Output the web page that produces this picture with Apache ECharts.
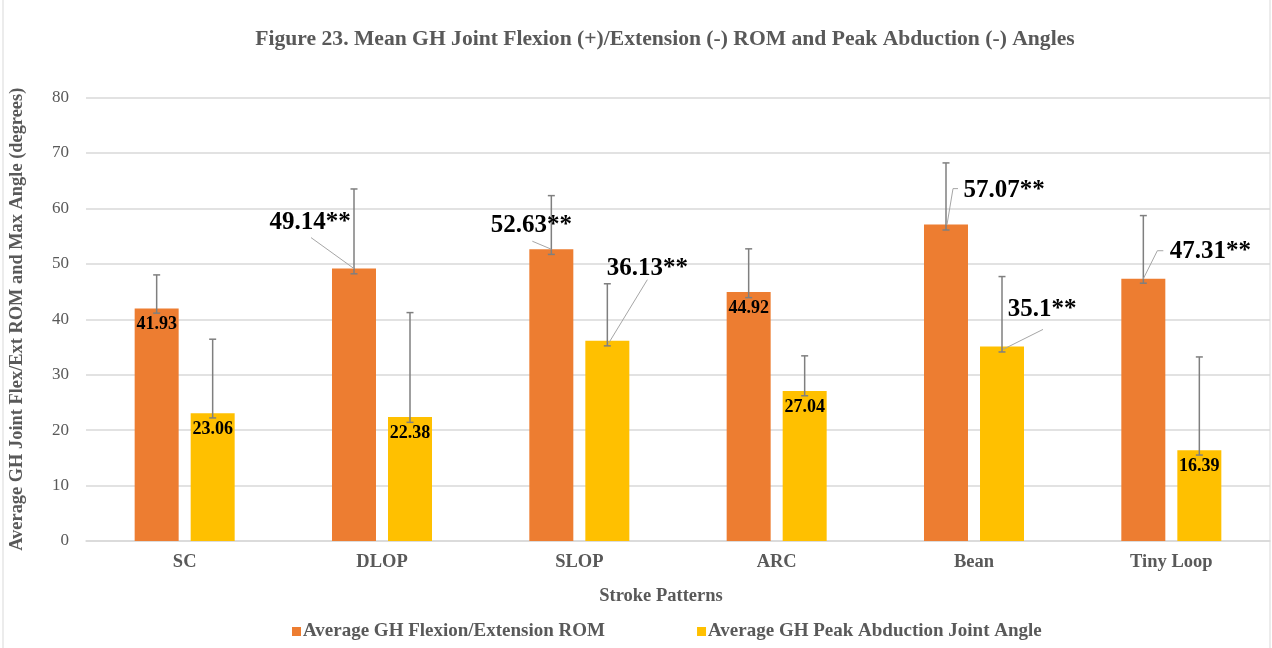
<!DOCTYPE html>
<html>
<head>
<meta charset="utf-8">
<script src="https://cdn.jsdelivr.net/npm/echarts@6/dist/echarts.min.js"></script>
<style>
  html, body { margin: 0; padding: 0; background: #fff; }
  #chart { width: 1272px; height: 648px; }
</style>
</head>
<body>
<div id="chart"></div>
<script>
// Stroke patterns on the x axis
const categories = ['SC', 'DLOP', 'SLOP', 'ARC', 'Bean', 'Tiny Loop'];
const seriesNames = ['Average GH Flexion/Extension ROM', 'Average GH Peak Abduction Joint Angle'];

// Mean values (degrees)
const flexExtRom = [41.93, 49.14, 52.63, 44.92, 57.07, 47.31];
const peakAbduction = [23.06, 22.38, 36.13, 27.04, 35.1, 16.39];

// Error bar ends (degrees)
const flexExtErrHigh = [48.0, 63.5, 62.3, 52.7, 68.2, 58.7];
const flexExtErrLow = [41.1, 48.2, 51.7, 43.9, 56.1, 46.5];
const abductionErrHigh = [36.4, 41.2, 46.4, 33.4, 47.7, 33.2];
const abductionErrLow = [22.2, 21.4, 35.2, 26.2, 34.1, 15.5];

// Significant differences (marked with **)
const flexExtSig = [false, true, true, false, true, true];
const abductionSig = [false, false, true, false, true, false];

// Y axis ticks
const yMin = 0, yMax = 80, yStep = 10;

// ---- styling / layout ----
const FONT = '"Liberation Serif", "Times New Roman", serif';
const GREY = '#595959';
const COLORS = ['#ED7D31', '#FFC000'];
const BAR_W = 44;
const GAP_PX = 12;
const HALF = (BAR_W + GAP_PX) / 2;

// Callout placement relative to the top centre of a bar: text centre and leader polyline
const calloutLayout = {
  '0-1': { t: [-44, -46], line: [[-43, -31], [0, 0]] },
  '0-2': { t: [-20, -24], line: [[-19, -8], [0, 0]] },
  '0-4': { t: [58, -34], line: [[12, -36], [7, -36], [1, 0]] },
  '0-5': { t: [67, -27], line: [[20, -28], [14, -28], [0, 0]] },
  '1-2': { t: [40, -72], line: [[40, -61], [1, 3]] },
  '1-4': { t: [40, -37], line: [[41, -17], [1, 3]] }
};

const values = [flexExtRom, peakAbduction];
const sigs = [flexExtSig, abductionSig];
const errHigh = [flexExtErrHigh, abductionErrHigh];
const errLow = [flexExtErrLow, abductionErrLow];

// error bar data: [categoryIndex, low, high, seriesIndex]
const errData = [];
const calloutData = [];
for (let s = 0; s < 2; s++) {
  for (let i = 0; i < categories.length; i++) {
    errData.push([i, errLow[s][i], errHigh[s][i], s]);
    if (sigs[s][i]) calloutData.push([i, values[s][i], s]);
  }
}

function barX(api, idx, s) {
  return api.coord([idx, 0])[0] + (s === 0 ? -HALF : HALF);
}

const chart = echarts.init(document.getElementById('chart'), null, { renderer: 'canvas' });

chart.setOption({
  animation: false,
  backgroundColor: '#fff',
  title: {
    text: 'Figure 23. Mean GH Joint Flexion (+)/Extension (-) ROM and Peak Abduction (-) Angles',
    left: 660,
    top: 23,
    textAlign: 'center',
    textStyle: { fontFamily: FONT, fontWeight: 'bold', fontSize: 21.6, color: GREY }
  },
  legend: {
    data: seriesNames,
    left: 287,
    top: 617,
    itemWidth: 9,
    itemHeight: 9,
    itemGap: 92,
    icon: 'rect',
    textStyle: { fontFamily: FONT, fontWeight: 'bold', fontSize: 19, color: GREY, padding: [0, 0, 0, -3] }
  },
  grid: { left: 85, right: 2, top: 97.5, bottom: 107, containLabel: false },
  xAxis: {
    type: 'category',
    data: categories,
    name: 'Stroke Patterns',
    nameLocation: 'middle',
    nameGap: 46,
    nameTextStyle: { fontFamily: FONT, fontWeight: 'bold', fontSize: 18.5, color: GREY, padding: [0, 34, 0, 0] },
    axisLine: { lineStyle: { color: '#D9D9D9', width: 1.5 } },
    axisTick: { show: false },
    axisLabel: { fontFamily: FONT, fontWeight: 'bold', fontSize: 18.5, color: GREY, margin: 12 }
  },
  yAxis: {
    type: 'value',
    min: yMin,
    max: yMax,
    interval: yStep,
    name: 'Average GH Joint Flex/Ext ROM and Max Angle (degrees)',
    nameLocation: 'middle',
    nameGap: 60,
    nameTextStyle: { fontFamily: FONT, fontWeight: 'bold', fontSize: 18.4, color: GREY },
    axisLine: { show: false },
    axisTick: { show: false },
    axisLabel: { fontFamily: FONT, fontSize: 17, color: GREY, margin: 17 },
    splitLine: { lineStyle: { color: '#D9D9D9', width: 1.5 } }
  },
  graphic: [{
    type: 'rect',
    shape: { x: 3, y: -2, width: 1267, height: 652 },
    style: { fill: 'none', stroke: '#D9D9D9', lineWidth: 1 },
    silent: true
  }],
  series: [0, 1].map(s => ({
    name: seriesNames[s],
    type: 'bar',
    data: values[s],
    barWidth: BAR_W,
    barGap: (GAP_PX / BAR_W * 100).toFixed(1) + '%',
    itemStyle: { color: COLORS[s] },
    label: {
      show: true,
      position: 'insideTop',
      distance: 7,
      fontFamily: FONT,
      fontWeight: 'bold',
      fontSize: 18,
      color: '#000',
      formatter: p => sigs[s][p.dataIndex] ? '' : String(p.value)
    },
    z: 2
  })).concat([
    {
      type: 'custom',
      name: 'errors',
      data: errData,
      encode: { x: 0, y: [1, 2] },
      z: 5,
      renderItem: (params, api) => {
        const idx = api.value(0), s = api.value(3);
        const x = barX(api, idx, s);
        const yLo = api.coord([idx, api.value(1)])[1];
        const yHi = api.coord([idx, api.value(2)])[1];
        const st = { stroke: '#7F7F7F', lineWidth: 1.5 };
        return {
          type: 'group',
          children: [
            { type: 'line', shape: { x1: x, y1: yLo, x2: x, y2: yHi }, style: st },
            { type: 'line', shape: { x1: x - 3.5, y1: yHi, x2: x + 3.5, y2: yHi }, style: st },
            { type: 'line', shape: { x1: x - 3.5, y1: yLo, x2: x + 3.5, y2: yLo }, style: st }
          ]
        };
      }
    },
    {
      type: 'custom',
      name: 'callouts',
      data: calloutData,
      encode: { x: 0, y: 1 },
      z: 6,
      renderItem: (params, api) => {
        const idx = api.value(0), v = api.value(1), s = api.value(2);
        const x = barX(api, idx, s);
        const y = api.coord([idx, v])[1];
        const lay = calloutLayout[s + '-' + idx];
        return {
          type: 'group',
          children: [
            {
              type: 'polyline',
              shape: { points: lay.line.map(p => [x + p[0], y + p[1]]) },
              style: { stroke: '#A6A6A6', lineWidth: 1, fill: 'none' }
            },
            {
              type: 'text',
              x: x + lay.t[0],
              y: y + lay.t[1],
              style: {
                text: String(v) + '**',
                fontFamily: FONT,
                fontWeight: 'bold',
                fontSize: 25,
                fill: '#000',
                align: 'center',
                verticalAlign: 'middle'
              }
            }
          ]
        };
      }
    }
  ])
});
</script>
</body>
</html>
